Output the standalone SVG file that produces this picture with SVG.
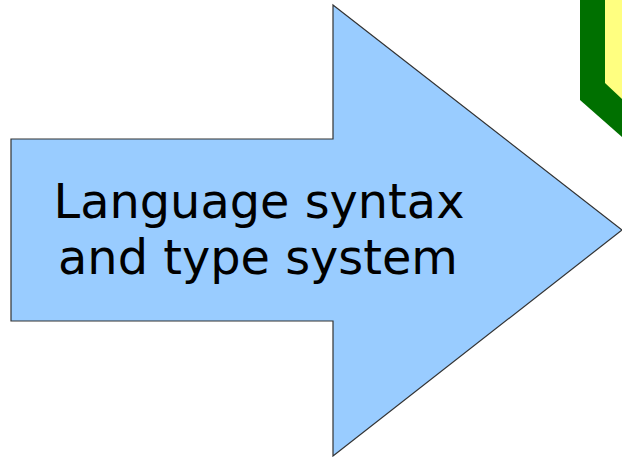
<svg xmlns="http://www.w3.org/2000/svg" width="622" height="457" viewBox="0 0 622 457">
<style>
.lbl{font-family:"DejaVu Sans",sans-serif;font-size:47.8px;fill:#000;text-anchor:middle}
</style>
<rect width="622" height="457" fill="#fff"/>
<g id="green-shape">
<polygon points="580,0 622,0 622,137 580,100" fill="#007000"/>
<polygon points="605,0 622,0 622,99 605,83" fill="#ffff80"/>
</g>
<g id="arrow">
<polygon points="11,139 333,139 333,5 622,230 333,456 333,321 11,321" fill="#99ccff" stroke="#333" stroke-width="1.2"/>
<text class="lbl" x="259" y="218">Language syntax</text>
<text class="lbl" x="258" y="274">and type system</text>
</g>
<g id="connectors"/>
</svg>
